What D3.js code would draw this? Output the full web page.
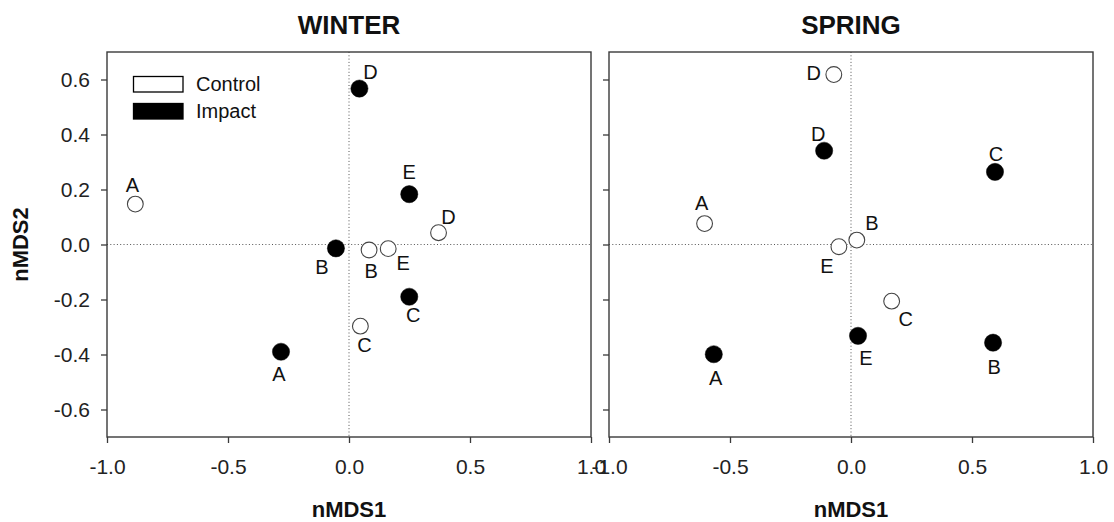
<!DOCTYPE html>
<html>
<head>
<meta charset="utf-8">
<script src="https://cdn.jsdelivr.net/npm/d3@7"></script>
<style>
  body { margin: 0; background: #fff; }
  svg { display: block; font-family: "Liberation Sans", Arial, Helvetica, sans-serif; }
</style>
</head>
<body>
<svg id="chart" width="1114" height="522"></svg>
<script>
// nMDS ordination scores per site (A–E), by season and treatment
const sites = ["A", "B", "C", "D", "E"];

const winterControlX = [-0.883, 0.083, 0.047, 0.370, 0.162];
const winterControlY = [0.147, -0.020, -0.297, 0.043, -0.015];
const winterImpactX  = [-0.281, -0.054, 0.249, 0.043, 0.249];
const winterImpactY  = [-0.390, -0.014, -0.190, 0.567, 0.183];

const springControlX = [-0.605, 0.024, 0.168, -0.071, -0.050];
const springControlY = [0.076, 0.016, -0.206, 0.618, -0.008];
const springImpactX  = [-0.567, 0.587, 0.595, -0.111, 0.029];
const springImpactY  = [-0.399, -0.357, 0.264, 0.341, -0.332];

const xTicks = [-1.0, -0.5, 0.0, 0.5, 1.0];
const yTicks = [-0.6, -0.4, -0.2, 0.0, 0.2, 0.4, 0.6];
const seasons = ["WINTER", "SPRING"];
const groups = ["Control", "Impact"];

// Label placement for each point (pixel offset of the letter's centre / baseline)
const labelOffset = {
  WINTER: {
    Control: { A: [-3, -12], B: [2, 28], C: [4, 26], D: [10, -9], E: [15, 21] },
    Impact:  { A: [-2, 29], B: [-14, 26], C: [4, 25], D: [11, -10], E: [0, -15] }
  },
  SPRING: {
    Control: { A: [-3, -14], B: [15, -10], C: [14, 25], D: [-20, 5], E: [-12, 26] },
    Impact:  { A: [2, 31], B: [1, 31], C: [1, -11], D: [-6, -10], E: [8, 29] }
  }
};

const seriesFor = {
  WINTER: { Control: [winterControlX, winterControlY], Impact: [winterImpactX, winterImpactY] },
  SPRING: { Control: [springControlX, springControlY], Impact: [springImpactX, springImpactY] }
};

const svg = d3.select("#chart");
const ink = "#222";
const frameInk = "#3a3a3a";
const fmt = d => d.toFixed(1);

const panels = [
  { season: seasons[0], left: 107, right: 591, showYLabels: true },
  { season: seasons[1], left: 609, right: 1093, showYLabels: false }
];
const plotTop = 52, plotBottom = 437;

const y = d3.scaleLinear().domain([-0.7, 0.7]).range([plotBottom, plotTop]);

panels.forEach(p => {
  const x = d3.scaleLinear().domain([-1, 1]).range([p.left, p.right]);
  const g = svg.append("g");

  // zero reference lines
  g.append("line")
    .attr("x1", x(0)).attr("x2", x(0)).attr("y1", plotTop).attr("y2", plotBottom)
    .attr("stroke", "#555").attr("stroke-width", 1).attr("stroke-dasharray", "1,2.3");
  g.append("line")
    .attr("x1", p.left).attr("x2", p.right).attr("y1", y(0)).attr("y2", y(0))
    .attr("stroke", "#555").attr("stroke-width", 1).attr("stroke-dasharray", "1,2.3");

  // axes
  const xAxis = g.append("g")
    .attr("transform", `translate(0,${plotBottom})`)
    .call(d3.axisBottom(x).tickValues(xTicks).tickSize(6).tickPadding(16).tickFormat(fmt));
  const yAxis = g.append("g")
    .attr("transform", `translate(${p.left},0)`)
    .call(d3.axisLeft(y).tickValues(yTicks).tickSize(6).tickPadding(11)
      .tickFormat(p.showYLabels ? fmt : () => ""));
  [xAxis, yAxis].forEach(a => {
    a.select(".domain").remove();
    a.selectAll(".tick line").attr("stroke", frameInk).attr("stroke-width", 1.3);
    a.selectAll(".tick text")
      .attr("fill", ink)
      .style("font-size", "21px")
      .style("font-family", "\"Liberation Sans\", Arial, sans-serif");
  });
  xAxis.selectAll(".tick text").attr("dy", null).attr("y", 37);

  // frame
  g.append("rect")
    .attr("x", p.left).attr("y", plotTop)
    .attr("width", p.right - p.left).attr("height", plotBottom - plotTop)
    .attr("fill", "none").attr("stroke", frameInk).attr("stroke-width", 1.4);

  // title and x axis label
  g.append("text")
    .attr("x", x(0)).attr("y", 34).attr("text-anchor", "middle")
    .style("font-size", "26px").style("font-weight", "bold").attr("fill", "#111")
    .text(p.season);
  g.append("text")
    .attr("x", x(0)).attr("y", 517).attr("text-anchor", "middle")
    .style("font-size", "22px").style("font-weight", "bold").attr("fill", "#111")
    .text("nMDS1");

  // points and site letters
  groups.forEach(grp => {
    const [xs, ys] = seriesFor[p.season][grp];
    const pts = sites.map((s, i) => ({ site: s, x: xs[i], y: ys[i] }));
    const isImpact = grp === "Impact";
    g.selectAll(null).data(pts).enter().append("circle")
      .attr("cx", d => x(d.x)).attr("cy", d => y(d.y))
      .attr("r", isImpact ? 8.6 : 7.9)
      .attr("fill", isImpact ? "#000" : "#fff")
      .attr("stroke", isImpact ? "#000" : "#444")
      .attr("stroke-width", isImpact ? 0.5 : 1.1);
    g.selectAll(null).data(pts).enter().append("text")
      .attr("x", d => x(d.x) + labelOffset[p.season][grp][d.site][0])
      .attr("y", d => y(d.y) + labelOffset[p.season][grp][d.site][1])
      .attr("text-anchor", "middle")
      .style("font-size", "20px").attr("fill", "#111")
      .text(d => d.site);
  });
});

// y axis label
svg.append("text")
  .attr("transform", `translate(28,${y(0)}) rotate(-90)`)
  .attr("text-anchor", "middle")
  .style("font-size", "22px").style("font-weight", "bold").attr("fill", "#111")
  .text("nMDS2");

// legend
const legend = svg.append("g");
groups.forEach((grp, i) => {
  legend.append("rect")
    .attr("x", 133.5).attr("y", 76.5 + i * 27)
    .attr("width", 49.5).attr("height", 15.5)
    .attr("fill", grp === "Impact" ? "#000" : "#fff")
    .attr("stroke", "#000").attr("stroke-width", 1.3);
  legend.append("text")
    .attr("x", 196).attr("y", 91 + i * 27)
    .style("font-size", "20px").attr("fill", "#111")
    .text(grp);
});
</script>
</body>
</html>
